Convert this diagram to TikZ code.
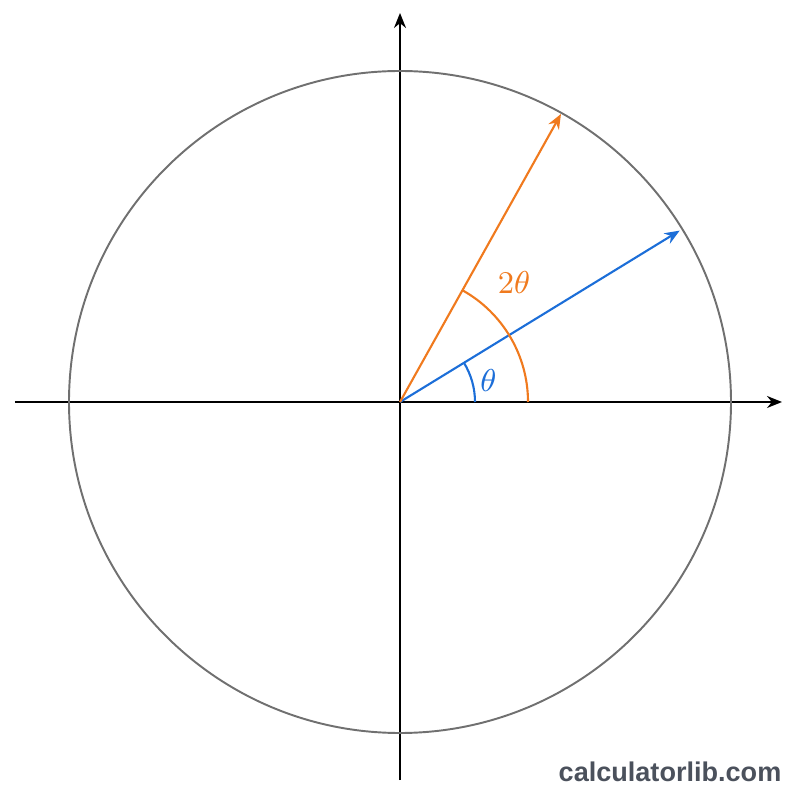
\documentclass[tikz,border=0pt]{standalone}
\usepackage{amsmath}
\usepackage{fontspec}
\usetikzlibrary{arrows.meta}
\newfontfamily\markfont{Liberation Sans}
\definecolor{angorange}{HTML}{F07A1E}
\definecolor{angblue}{HTML}{1C6ED8}
\definecolor{rimgray}{HTML}{707070}
\definecolor{markgray}{HTML}{4B515C}

\begin{document}
\begin{tikzpicture}[>={Stealth[length=1.5mm,width=1.2mm]}]
    \useasboundingbox (-4,-3.98) rectangle (4,4.02);
    \coordinate (O) at (0,0);

    % world
    \coordinate (xl) at (-3.85,0);
    \coordinate (xr) at (3.82,0);
    \coordinate (yb) at (0,-3.78);
    \coordinate (yt) at (0,3.89);
    \draw[->, line width=0.6pt] (xl) -- (xr);
    \draw[->, line width=0.6pt] (yb) -- (yt);

    % circle
    \draw[rimgray, line width=0.55pt] (O) circle [radius=3.31];

    % vectors
    \coordinate (P) at (31.5:3.28);
    \coordinate (Q) at (60.8:3.30);
    \draw[->, angblue, line width=0.6pt] (O) -- (P);
    \draw[->, angorange, line width=0.6pt] (O) -- (Q);

    % \theta
    \draw[angblue, line width=0.6pt] (0.75,0) arc [start angle=0, end angle=31.5, radius=0.75];
    \node[angblue, font=\fontsize{8.8}{10}\selectfont] (th) at (0.885,0.215) {$\theta$};

    % 2\theta
    \draw[angorange, line width=0.6pt] (1.28,0) arc [start angle=0, end angle=60.8, radius=1.28];
    \node[angorange, font=\fontsize{8.8}{10}\selectfont] (tth) at (1.14,1.19) {$2\theta$};

    % mark
    \node[anchor=east, inner sep=0pt, markgray, font=\markfont\bfseries\fontsize{7.7}{9}\selectfont] (mark) at (3.82,-3.70) {calculatorlib.com};
\end{tikzpicture}
\end{document}
